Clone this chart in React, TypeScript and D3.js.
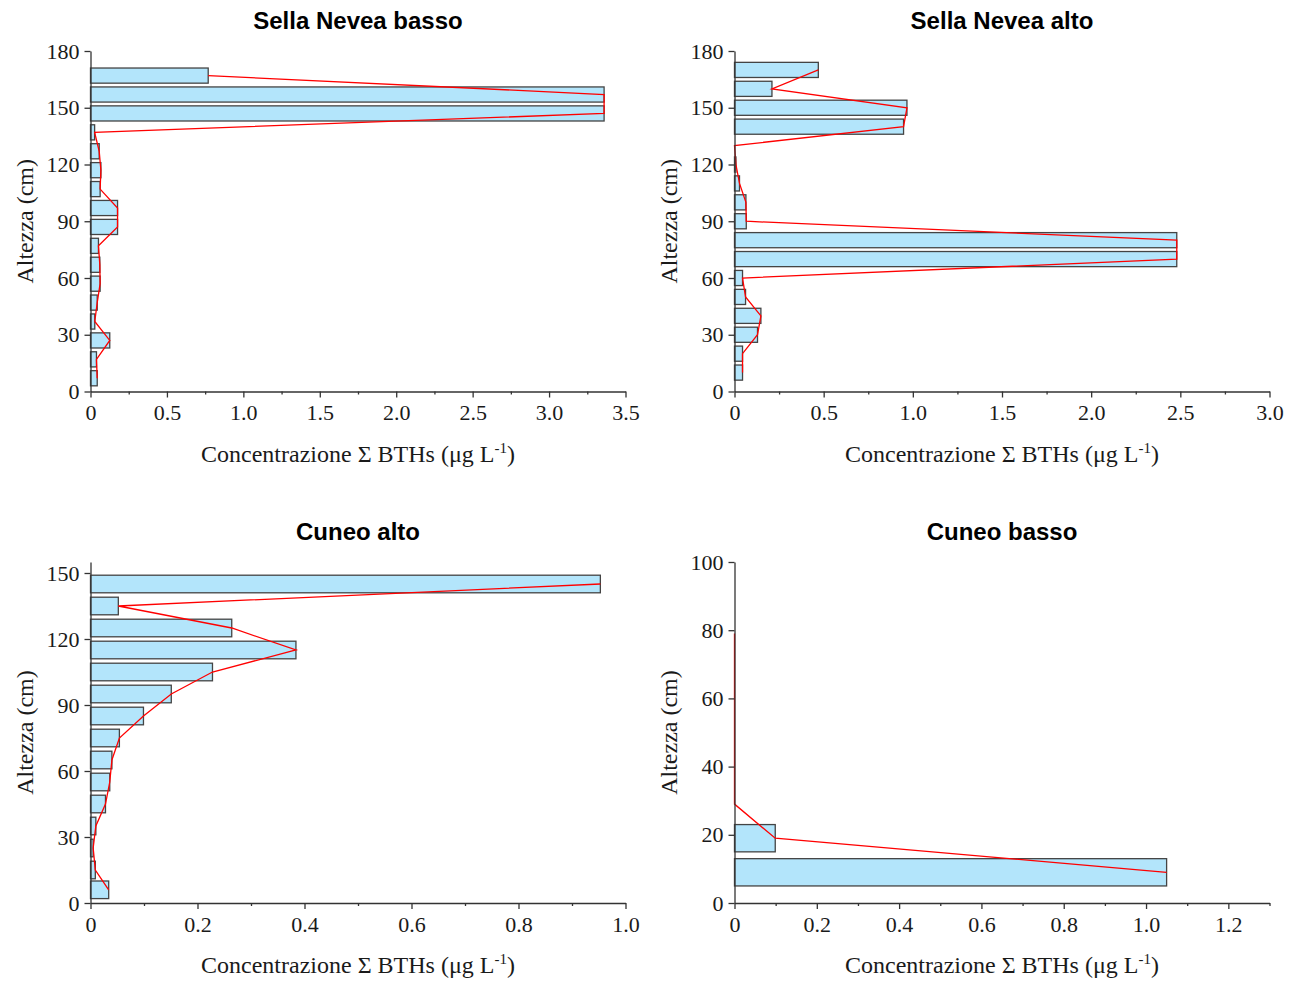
import React, { useEffect, useRef } from 'react';
import * as d3 from 'd3';

// Sella Nevea basso
const sellaBassoHeights = [167, 157, 147, 137, 127, 117, 107, 97, 87, 77, 67, 57, 47, 37, 27, 17, 7];
const sellaBassoValues = [0.77, 3.36, 3.36, 0.027, 0.057, 0.068, 0.063, 0.177, 0.177, 0.052, 0.061, 0.063, 0.044, 0.028, 0.126, 0.039, 0.044];

// Sella Nevea alto
const sellaAltoHeights = [170, 160, 150, 140, 130, 120, 110, 100, 90, 80, 70, 60, 50, 40, 30, 20, 10];
const sellaAltoValues = [0.47, 0.21, 0.967, 0.948, 0, 0.008, 0.028, 0.064, 0.066, 2.48, 2.48, 0.045, 0.062, 0.148, 0.129, 0.045, 0.045];

// Cuneo alto
const cuneoAltoHeights = [145, 135, 125, 115, 105, 95, 85, 75, 65, 55, 45, 35, 25, 15, 6];
const cuneoAltoValues = [0.953, 0.052, 0.264, 0.384, 0.228, 0.151, 0.099, 0.054, 0.04, 0.036, 0.028, 0.01, 0.005, 0.009, 0.034];

// Cuneo basso
const cuneoBassoHeights = [79, 69, 59, 49, 39, 29, 19, 9];
const cuneoBassoValues = [0, 0, 0, 0, 0, 0, 0.099, 1.05];

const titles = ['Sella Nevea basso', 'Sella Nevea alto', 'Cuneo alto', 'Cuneo basso'];
const xMaxes = [3.5, 3.0, 1.0, 1.3];
const xTickSteps = [0.5, 0.5, 0.2, 0.2];
const yMaxes = [180, 180, 155, 100];
const yTickSteps = [30, 30, 30, 20];

const xLabel = 'Concentrazione \u03A3 BTHs (\u03BCg L';
const yLabel = 'Altezza (cm)';

const serif = '"Liberation Serif", "Times New Roman", serif';
const sans = '"Liberation Sans", Arial, sans-serif';

function App() {
    const ref = useRef(null);

    useEffect(() => {
        drawChart();
    }, []);

    function drawChart() {
        const svg = d3.select(ref.current);
        svg.selectAll('*').remove();

        const data = [
            [sellaBassoHeights, sellaBassoValues],
            [sellaAltoHeights, sellaAltoValues],
            [cuneoAltoHeights, cuneoAltoValues],
            [cuneoBassoHeights, cuneoBassoValues],
        ];
        const lefts = [90.5, 734.5, 90.5, 734.5];
        const tops = [51, 51, 562, 562];
        const bottoms = [391.5, 391.5, 903, 903];
        const w = 535;
        const barHalf = 4;

        data.forEach(([heights, values], i) => {
            const left = lefts[i];
            const top = tops[i];
            const bottom = bottoms[i];

            const x = d3.scaleLinear().domain([0, xMaxes[i]]).range([left, left + w]);
            const y = d3.scaleLinear().domain([0, yMaxes[i]]).range([bottom, top]);

            const g = svg.append('g');

            // bars
            const points = heights.map((h, k) => ({ h, v: values[k] }));
            g.selectAll('rect')
                .data(points.filter(d => d.v > 0))
                .enter()
                .append('rect')
                .attr('x', x(0))
                .attr('width', d => x(d.v) - x(0))
                .attr('y', d => y(d.h + barHalf))
                .attr('height', d => y(d.h - barHalf) - y(d.h + barHalf))
                .attr('fill', '#b3e5fb')
                .attr('stroke', '#444')
                .attr('stroke-width', 1.3);

            // red profile line
            const line = d3.line<{ h: number; v: number }>()
                .x(d => x(d.v))
                .y(d => y(d.h));
            g.append('path')
                .attr('d', line([...points].sort((a, b) => a.h - b.h)))
                .attr('fill', 'none')
                .attr('stroke', '#ff0000')
                .attr('stroke-width', 1.3);

            // x axis
            const step = xTickSteps[i];
            const major = d3.range(0, xMaxes[i] + 1e-9, step);
            const minor = d3.range(step / 2, xMaxes[i] + 1e-9, step);
            const xAxis = g.append('g')
                .attr('transform', `translate(0, ${bottom})`)
                .call(d3.axisBottom(x)
                    .tickValues(major)
                    .tickSize(6)
                    .tickSizeOuter(0)
                    .tickPadding(7)
                    .tickFormat(d => (+d === 0 ? '0' : d3.format('.1f')(+d))));
            g.append('g')
                .attr('transform', `translate(0, ${bottom})`)
                .call(d3.axisBottom(x).tickValues(minor).tickSize(3).tickFormat(() => ''))
                .call(a => a.select('.domain').remove());

            // y axis
            const yAxis = g.append('g')
                .attr('transform', `translate(${left}, 0)`)
                .call(d3.axisLeft(y)
                    .tickValues(d3.range(0, yMaxes[i] + 1e-9, yTickSteps[i]))
                    .tickSize(6)
                    .tickSizeOuter(0)
                    .tickPadding(5));

            [xAxis, yAxis].forEach(a => {
                a.selectAll('text')
                    .style('font-family', serif)
                    .style('font-size', '22px')
                    .attr('fill', '#1a1a1a');
            });
            g.selectAll('.domain, .tick line')
                .attr('stroke', '#333')
                .attr('stroke-width', 1.3);

            // title
            g.append('text')
                .attr('x', left + w / 2)
                .attr('y', top - 22)
                .attr('text-anchor', 'middle')
                .style('font-family', sans)
                .style('font-weight', 'bold')
                .style('font-size', '24px')
                .attr('fill', '#000')
                .text(titles[i]);

            // x label
            const xl = g.append('text')
                .attr('x', left + w / 2)
                .attr('y', bottom + 70)
                .attr('text-anchor', 'middle')
                .style('font-family', serif)
                .style('font-size', '24px')
                .attr('fill', '#1a1a1a');
            xl.append('tspan').text(xLabel);
            xl.append('tspan').attr('dy', -9).style('font-size', '15px').text('-1');
            xl.append('tspan').attr('dy', 9).text(')');

            // y label
            g.append('text')
                .attr('transform', `translate(${left - 58}, ${(top + bottom) / 2}) rotate(-90)`)
                .attr('text-anchor', 'middle')
                .style('font-family', serif)
                .style('font-size', '24px')
                .attr('fill', '#1a1a1a')
                .text(yLabel);
        });
    }

    return (
        <svg
            ref={ref}
            width={1296}
            height={982}
            style={{ position: 'absolute', left: 0, top: 0, background: '#fff' }}
        />
    );
}

export default App;
